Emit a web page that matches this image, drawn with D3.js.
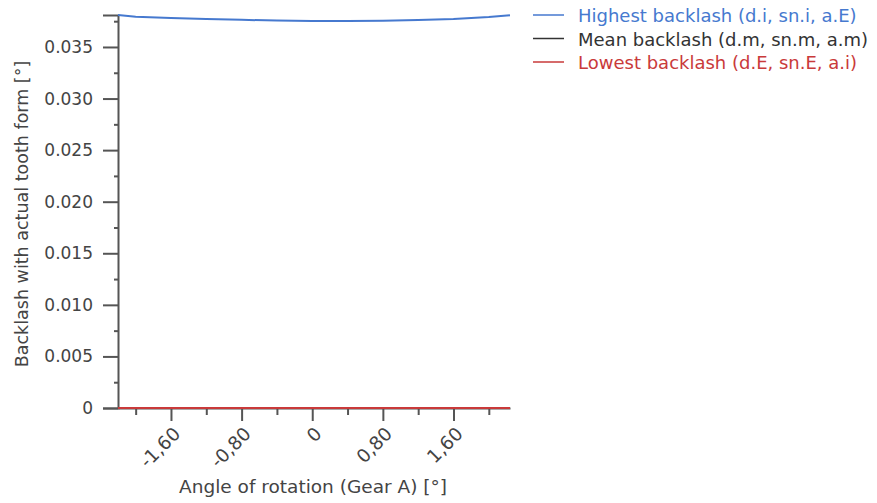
<!DOCTYPE html>
<html>
<head>
<meta charset="utf-8">
<script src="https://cdn.jsdelivr.net/npm/d3@7"></script>
<style>
  body { margin: 0; background: #fff; }
  text { font-family: "DejaVu Sans", Verdana, sans-serif; }
</style>
</head>
<body>
<script>
let width = 877;
let height = 503;

// data
let angles = [-2.2, -2.0, -1.6, -1.2, -0.8, -0.4, 0, 0.4, 0.8, 1.2, 1.6, 2.0, 2.24];
let highest = [0.0381, 0.03792, 0.03781, 0.03772, 0.03763, 0.03756, 0.03751, 0.03751, 0.03755, 0.03762, 0.03772, 0.03790, 0.03808];
let mean = [0, 0, 0, 0, 0, 0, 0, 0, 0, 0, 0, 0, 0];
let lowest = [0, 0, 0, 0, 0, 0, 0, 0, 0, 0, 0, 0, 0];

let seriesNames = ["Highest backlash (d.i, sn.i, a.E)", "Mean backlash (d.m, sn.m, a.m)", "Lowest backlash (d.E, sn.E, a.i)"];
let seriesColors = ["#4679cf", "#333333", "#c93a3a"];

let xTicks = [-1.6, -0.8, 0, 0.8, 1.6];
let xMinor = [-2.0, -1.2, -0.4, 0.4, 1.2, 2.0];
let yTicks = [0, 0.005, 0.010, 0.015, 0.020, 0.025, 0.030, 0.035];
let yMinor = [0.0025, 0.0075, 0.0125, 0.0175, 0.0225, 0.0275, 0.0325, 0.0375];

let svg = d3.select("body").append("svg")
            .attr("width", width)
            .attr("height", height);

let x = d3.scaleLinear().domain([-2.2, 2.24]).range([118, 510]);
let y = d3.scaleLinear().domain([0, 0.0381]).range([408, 15]);

let axisColor = "#555";

// Y axis
let yAxis = svg.append("g")
               .attr("transform", "translate(118,0)")
               .call(d3.axisLeft(y).tickValues(yTicks).tickSize(15).tickPadding(10)
                       .tickFormat(d => d === 0 ? "0" : d3.format(".3f")(d)));
svg.append("g")
   .attr("transform", "translate(118,0)")
   .call(d3.axisLeft(y).tickValues(yMinor).tickSize(4).tickFormat(""))
   .call(g => g.select(".domain").remove());

// X axis
let xAxis = svg.append("g")
               .attr("transform", "translate(0,408)")
               .call(d3.axisBottom(x).tickValues(xTicks).tickSize(13).tickSizeOuter(0)
                       .tickFormat(d => d === 0 ? "0" : d3.format(".2f")(d).replace(".", ",").replace("−", "-")));
svg.append("g")
   .attr("transform", "translate(0,408)")
   .call(d3.axisBottom(x).tickValues(xMinor).tickSize(7).tickFormat(""))
   .call(g => g.select(".domain").remove());

svg.selectAll(".tick line").attr("stroke", axisColor).attr("stroke-width", 2);
svg.selectAll(".domain").attr("stroke", axisColor).attr("stroke-width", 2);
svg.selectAll(".tick text").attr("fill", "#444").attr("font-size", 17)
   .style("font-family", "DejaVu Sans");

xAxis.selectAll("text")
     .attr("text-anchor", "end")
     .attr("dy", null)
     .attr("y", 0)
     .attr("font-size", 18.5)
     .attr("transform", "translate(10,27) rotate(-45)");

// axis titles
svg.append("text")
   .attr("x", 313).attr("y", 493)
   .attr("text-anchor", "middle")
   .attr("font-size", 18.5)
   .attr("fill", "#444")
   .text("Angle of rotation (Gear A) [°]");

svg.append("text")
   .attr("transform", "translate(28,214) rotate(-90)")
   .attr("text-anchor", "middle")
   .attr("font-size", 17.5)
   .attr("fill", "#444")
   .text("Backlash with actual tooth form [°]");

// the series
let line = d3.line().x((d, i) => x(angles[i])).y(d => y(d));
let allSeries = [highest, mean, lowest];
allSeries.forEach((s, k) => {
  svg.append("path")
     .attr("d", line(s))
     .attr("fill", "none")
     .attr("stroke", seriesColors[k])
     .attr("stroke-width", 2);
});

// legend
seriesNames.forEach((name, k) => {
  let ly = 15 + k * 23.5;
  svg.append("line")
     .attr("x1", 533).attr("x2", 564)
     .attr("y1", ly).attr("y2", ly)
     .attr("stroke", seriesColors[k])
     .attr("stroke-width", 1.5);
  svg.append("text")
     .attr("x", 578).attr("y", ly + 7)
     .attr("font-size", 18)
     .attr("fill", seriesColors[k])
     .text(name);
});
</script>
</body>
</html>
